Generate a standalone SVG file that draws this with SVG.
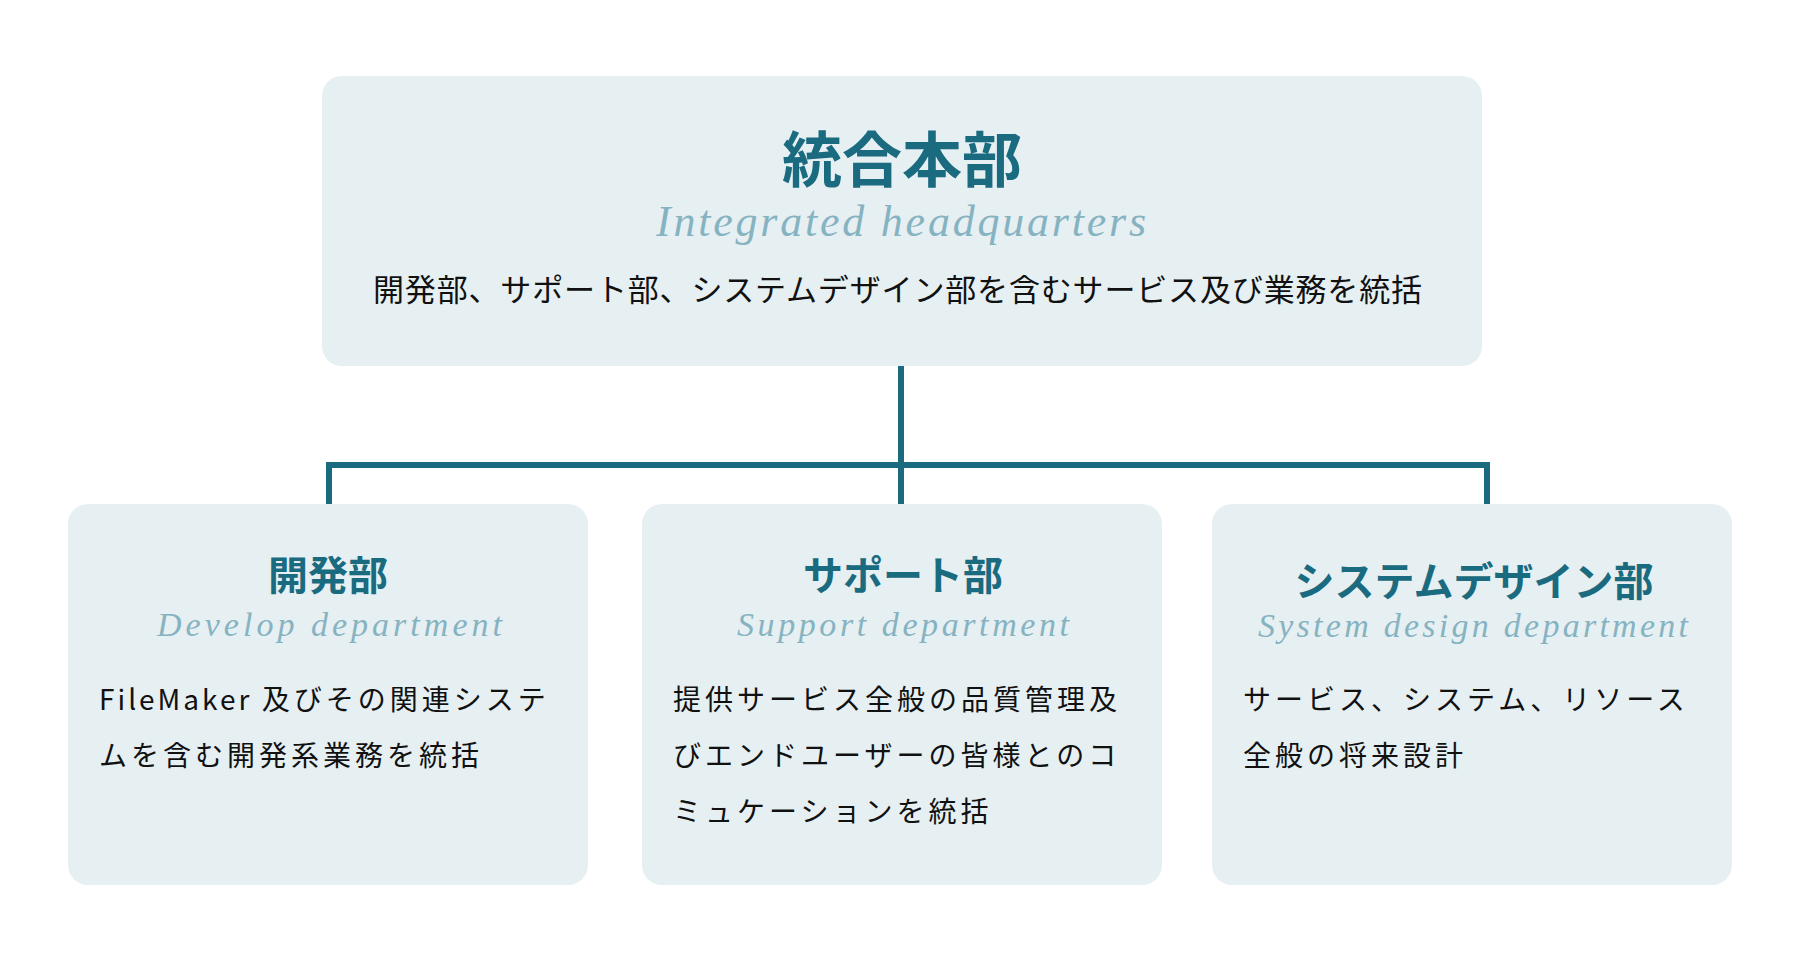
<svg xmlns="http://www.w3.org/2000/svg" width="1800" height="956" viewBox="0 0 1800 956">
<style>
.box{fill:#e6eff2}
.title{font-family:"Noto Sans CJK JP","Noto Sans",sans-serif;font-weight:700;fill:#1a6b80;text-anchor:middle}
.script{font-family:"Liberation Serif","DejaVu Serif",serif;font-style:italic;fill:#86b3c1}
.desc{font-family:"Noto Sans CJK JP","Noto Sans",sans-serif;font-size:31px;fill:#111}
.body{font-family:"Noto Sans CJK JP","Noto Sans",sans-serif;font-size:28px;letter-spacing:4px;fill:#111}
.conn{fill:none;stroke:#1a6b80;stroke-width:6}
</style>
<rect width="1800" height="956" fill="#ffffff"/>
<g id="connectors">
<path class="conn" d="M901 366 V504"/>
<path class="conn" d="M329 504 V465 H1487 V504"/>
</g>
<g id="hq">
<rect class="box" x="322" y="76" width="1160" height="290" rx="20"/>
<text class="title" x="902" y="182" font-size="60">統合本部</text>
<text class="script" x="656" y="236" font-size="44" textLength="490" lengthAdjust="spacing">Integrated headquarters</text>
<text class="desc" x="373" y="301" textLength="1049" lengthAdjust="spacing">開発部、サポート部、システムデザイン部を含むサービス及び業務を統括</text>
</g>
<g id="dev">
<rect class="box" x="68" y="504" width="520" height="381" rx="20"/>
<text class="title" x="328" y="590" font-size="40">開発部</text>
<text class="script" x="157" y="636" font-size="34" textLength="345" lengthAdjust="spacing">Develop department</text>
<text class="body" x="99" y="710"><tspan letter-spacing="3px">FileMaker </tspan>及びその関連システ</text>
<text class="body" x="99" y="766">ムを含む開発系業務を統括</text>
</g>
<g id="support">
<rect class="box" x="642" y="504" width="520" height="381" rx="20"/>
<text class="title" x="903" y="590" font-size="40">サポート部</text>
<text class="script" x="737" y="636" font-size="34" textLength="332" lengthAdjust="spacing">Support department</text>
<text class="body" x="673" y="710">提供サービス全般の品質管理及</text>
<text class="body" x="673" y="766">びエンドユーザーの皆様とのコ</text>
<text class="body" x="673" y="822">ミュケーションを統括</text>
</g>
<g id="sysdesign">
<rect class="box" x="1212" y="504" width="520" height="381" rx="20"/>
<text class="title" x="1474" y="596" font-size="40">システムデザイン部</text>
<text class="script" x="1258" y="637" font-size="34" textLength="430" lengthAdjust="spacing">System design department</text>
<text class="body" x="1243" y="710">サービス、システム、リソース</text>
<text class="body" x="1243" y="766">全般の将来設計</text>
</g>
</svg>
